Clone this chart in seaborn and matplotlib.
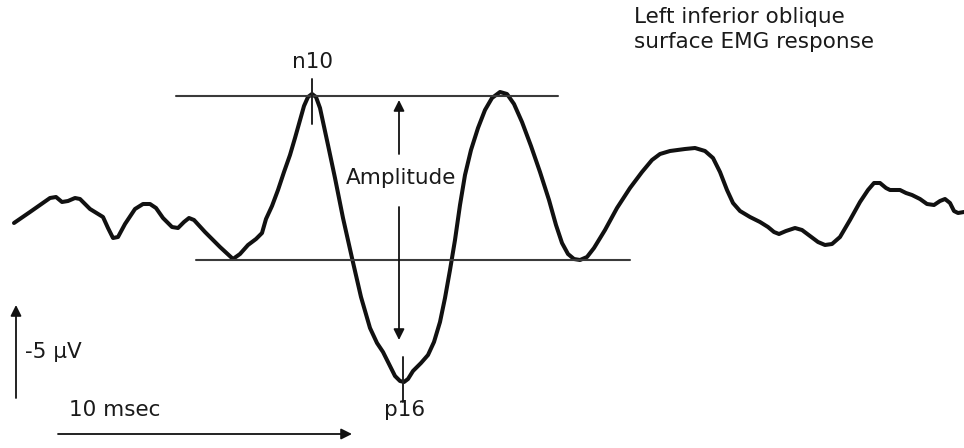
import matplotlib
matplotlib.use("Agg")
import matplotlib.pyplot as plt
import seaborn as sns
import pandas as pd

# Waveform samples (horizontal position, vertical position in picture units; y grows downward)
t = [14, 30, 50, 56, 62, 68, 75, 80, 90, 98, 103, 108, 113, 118, 125, 135, 143, 150, 156, 163,
     172, 178, 184, 189, 194, 205, 220, 233, 240, 248, 256, 262, 264, 266, 272, 278, 284, 290,
     295, 300, 304, 308, 312, 316, 320, 328, 335, 343, 352, 361, 370, 377, 383, 389, 395, 400,
     404, 408, 413, 421, 428, 434, 440, 445, 450, 455, 460, 465, 471, 478, 485, 492, 500, 507,
     514, 522, 531, 540, 549, 556, 562, 568, 574, 580, 587, 594, 605, 617, 630, 642, 652, 660,
     670, 685, 695, 705, 713, 720, 727, 733, 740, 750, 760, 768, 774, 779, 786, 795, 802, 810,
     818, 825, 832, 840, 850, 860, 868, 874, 880, 886, 890, 900, 906, 912, 920, 927, 934, 940,
     945, 950, 954, 958, 964]
v = [223, 212, 198, 197, 202, 201, 198, 199, 209, 214, 217, 228, 238, 237, 224, 209, 204, 204, 208, 218,
     227, 228, 222, 218, 220, 232, 247, 259, 254, 245, 239, 233, 226, 219, 206, 190, 172, 155,
     138, 120, 106, 97, 94, 97, 108, 145, 178, 218, 258, 297, 328, 343, 352, 364, 376, 381,
     382, 379, 371, 363, 355, 342, 322, 298, 270, 240, 205, 175, 150, 128, 110, 98, 92, 94,
     104, 122, 146, 172, 200, 225, 243, 254, 259, 260, 257, 248, 230, 208, 188, 172, 160, 154,
     151, 149, 148, 151, 158, 172, 190, 203, 211, 217, 222, 227, 232, 234, 231, 228, 230, 236,
     242, 245, 244, 237, 220, 202, 190, 183, 183, 188, 190, 190, 193, 195, 199, 204, 205, 201,
     199, 203, 211, 213, 212]

# Reference levels
peak_level = 96
trough_level = 260

title_lines = ["Left inferior oblique", "surface EMG response"]
labels = {"peak": "n10", "trough": "p16", "amp": "Amplitude", "volt": "-5 \u03bcV", "time": "10 msec"}

df = pd.DataFrame({"t": t, "v": v})

sns.set_style("white")
fig = plt.figure(figsize=(9.64, 4.48), dpi=100)
ax = fig.add_axes([0, 0, 1, 1])

sns.lineplot(data=df, x="t", y="v", sort=False, estimator=None, color="#111111",
             linewidth=2.9, ax=ax)
ax.lines[-1].set_solid_joinstyle("round")
ax.lines[-1].set_solid_capstyle("round")

# horizontal reference lines
ax.plot([176, 558], [peak_level, peak_level], color="#3a3a3a", lw=1.5)
ax.plot([196, 630], [trough_level, trough_level], color="#3a3a3a", lw=1.5)

# ticks at n10 and p16
ax.plot([312, 312], [79, 124], color="#222222", lw=1.4)
ax.plot([403, 403], [357, 402], color="#222222", lw=1.4)

arrow = dict(arrowstyle="-|>", color="#111111", lw=1.3, mutation_scale=16, shrinkA=0, shrinkB=0)
ax.annotate("", xy=(399, 100), xytext=(399, 154), arrowprops=arrow)
ax.annotate("", xy=(399, 340), xytext=(399, 207), arrowprops=arrow)
ax.annotate("", xy=(16, 305), xytext=(16, 398), arrowprops=arrow)
ax.annotate("", xy=(352, 434), xytext=(58, 434), arrowprops=arrow)

fs = 15.5
col = "#1a1a1a"
ax.text(401, 178, labels["amp"], ha="center", va="center", fontsize=fs, color=col)
ax.text(313, 62, labels["peak"], ha="center", va="center", fontsize=fs, color=col)
ax.text(405, 410, labels["trough"], ha="center", va="center", fontsize=fs, color=col)
ax.text(25, 352, labels["volt"], ha="left", va="center", fontsize=fs, color=col)
ax.text(69, 410, labels["time"], ha="left", va="center", fontsize=fs, color=col)
ax.text(634, 17, title_lines[0], ha="left", va="center", fontsize=fs, color=col)
ax.text(634, 42, title_lines[1], ha="left", va="center", fontsize=fs, color=col)

ax.set_xlim(0, 964)
ax.set_ylim(448, 0)
ax.set_axis_off()

fig.savefig("out.png", dpi=100, facecolor="white")
